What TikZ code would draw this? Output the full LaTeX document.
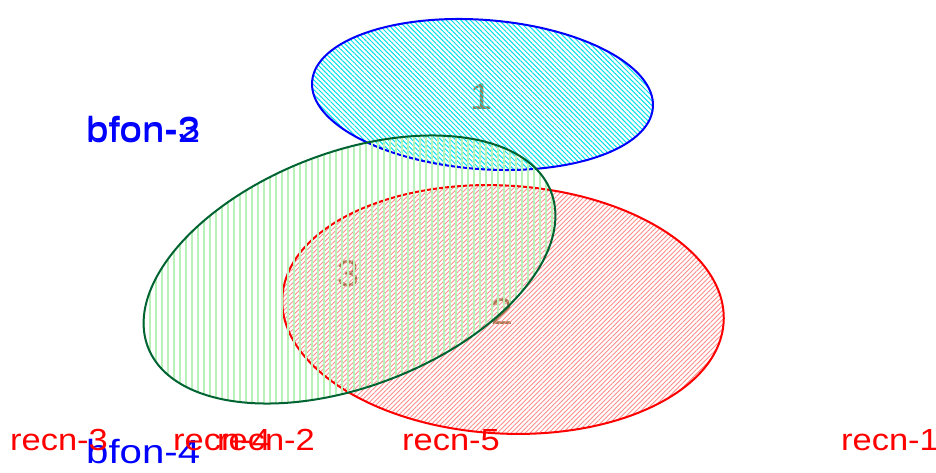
\documentclass[tikz,border=0pt]{standalone}
\usepackage{fontspec}
\setmainfont{Liberation Sans}
\usetikzlibrary{patterns.meta}
\definecolor{numbrown}{RGB}{160,122,82}
\definecolor{hatchcyan}{RGB}{0,225,235}
\definecolor{hatchred}{RGB}{255,140,140}
\definecolor{hatchgreen}{RGB}{185,242,185}
\definecolor{edgegreen}{RGB}{0,100,50}
\tikzset{
  recnlabel/.style={anchor=base west,inner sep=0pt,text=red,font=\fontsize{30.5}{30.5}\selectfont},
  bfonlabel/.style={anchor=base west,inner sep=0pt,text=blue,font=\fontsize{33.5}{33.5}\selectfont},
  numlabel/.style={anchor=center,inner sep=0pt,text=numbrown,font=\fontsize{37}{37}\selectfont},
  setedge/.style={line width=2pt}
}
\newcommand{\wideR}[1]{\scalebox{1.13}[1]{#1}}
\newcommand{\wideB}[1]{\scalebox{1.2}[1]{#1}}
\newcommand{\wideN}[1]{\scalebox{1.08}[1]{#1}}
\begin{document}
\begin{tikzpicture}[x=1pt,y=1pt]
\useasboundingbox (0,0) rectangle (936,-473);
% region numbers (under hatching)
\node[numlabel] (n1) at (481,-97) {\wideN{1}};
\node[numlabel] (n3) at (348,-274) {\wideN{3}};
\node[numlabel] (n2) at (502,-312) {\wideN{2}};
% set 1 (blue)
\fill[pattern={Lines[angle=-45,distance=3.4pt,line width=1pt]},pattern color=hatchcyan,
  rotate around={-4.35:(482.5,-94.5)}] (482.5,-94.5) ellipse [x radius=170.9,y radius=74.6];
\draw[setedge,blue,rotate around={-4.35:(482.5,-94.5)}] (482.5,-94.5) ellipse [x radius=170.9,y radius=74.6];
% set 2 (red)
\fill[pattern={Lines[angle=45,distance=3.3pt,line width=0.9pt]},pattern color=hatchred,
  rotate around={-3.2:(503,-309.5)}] (503,-309.5) ellipse [x radius=221,y radius=124];
\draw[setedge,red,rotate around={-3.2:(503,-309.5)}] (503,-309.5) ellipse [x radius=221,y radius=124];
% set 3 (green)
\fill[pattern={Lines[angle=90,distance=6pt,line width=2.2pt]},pattern color=hatchgreen,
  rotate around={21.1:(349.5,-269.5)}] (349.5,-269.5) ellipse [x radius=216,y radius=117];
\draw[setedge,edgegreen,rotate around={21.1:(349.5,-269.5)}] (349.5,-269.5) ellipse [x radius=216,y radius=117];
% labels
\node[bfonlabel] (b3) at (86,-141) {\wideB{bfon-3}};
\node[bfonlabel] (b2) at (86,-143) {\wideB{bfon-2}};
\node[bfonlabel] (b4) at (86,-463) {\wideB{bfon-4}};
\node[recnlabel] (r3) at (10,-450) {\wideR{recn-3}};
\node[recnlabel] (r4) at (173,-450) {\wideR{recn-4}};
\node[recnlabel] (r2) at (217,-450) {\wideR{recn-2}};
\node[recnlabel] (r5) at (402,-450) {\wideR{recn-5}};
\node[recnlabel] (r1) at (841,-450) {\wideR{recn-1}};
\end{tikzpicture}
\end{document}
